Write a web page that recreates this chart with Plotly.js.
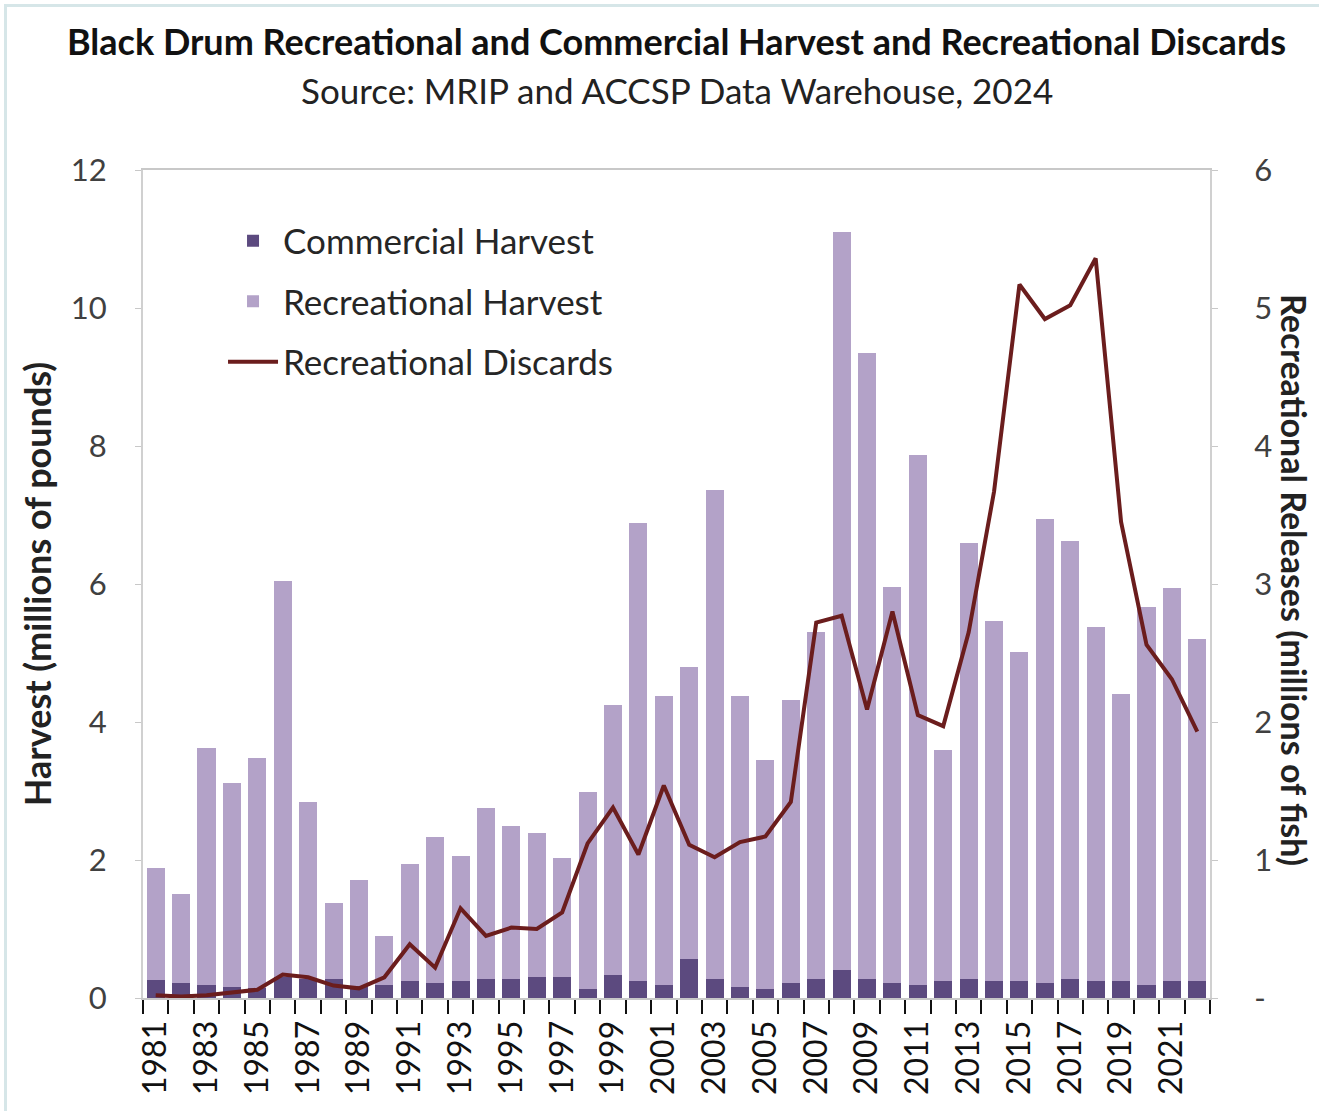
<!DOCTYPE html>
<html><head><meta charset="utf-8">
<script src="https://cdn.plot.ly/plotly-3.0.1.min.js"></script>
<style>
html,body{margin:0;padding:0;background:#fff;overflow:hidden;}
#frame{position:absolute;left:4px;top:4px;width:1400px;height:1200px;border:3px solid #d6e6e8;pointer-events:none;}
</style>
</head><body>
<div id="chart" style="width:1319px;height:1111px;"></div>
<div id="frame"></div>
<script>
const years = [1981,1982,1983,1984,1985,1986,1987,1988,1989,1990,1991,1992,1993,1994,1995,1996,1997,1998,1999,2000,2001,2002,2003,2004,2005,2006,2007,2008,2009,2010,2011,2012,2013,2014,2015,2016,2017,2018,2019,2020,2021,2022];
const commercialHarvest = [0.26,0.22,0.19,0.16,0.15,0.30,0.28,0.27,0.18,0.19,0.24,0.22,0.24,0.27,0.28,0.31,0.31,0.13,0.34,0.24,0.19,0.56,0.28,0.16,0.13,0.22,0.28,0.41,0.28,0.22,0.19,0.24,0.28,0.24,0.24,0.22,0.28,0.24,0.24,0.19,0.24,0.24];
const recreationalHarvest = [1.63,1.29,3.44,2.96,3.33,5.74,2.56,1.11,1.53,0.71,1.70,2.12,1.82,2.49,2.22,2.08,1.72,2.86,3.90,6.65,4.18,4.24,7.08,4.21,3.32,4.10,5.02,10.69,9.07,5.74,7.68,3.36,6.31,5.22,4.77,6.72,6.35,5.13,4.17,5.47,5.70,4.96];
const recreationalDiscards = [0.02,0.01,0.02,0.04,0.06,0.17,0.15,0.09,0.07,0.15,0.39,0.22,0.65,0.45,0.51,0.50,0.62,1.12,1.38,1.04,1.54,1.11,1.02,1.13,1.17,1.42,2.72,2.77,2.09,2.80,2.05,1.97,2.65,3.67,5.17,4.92,5.02,5.36,3.45,2.56,2.31,1.93];
const xLabelYears = [1981,1983,1985,1987,1989,1991,1993,1995,1997,1999,2001,2003,2005,2007,2009,2011,2013,2015,2017,2019,2021];
const leftTicks = [0,2,4,6,8,10,12];
const rightTicks = [0,1,2,3,4,5,6];
const rightTickText = ['-','1','2','3','4','5','6'];

const fontFam = 'Lato, "Open Sans", sans-serif';

const traces = [
  {type:'bar', name:'Commercial Harvest', x:years, y:commercialHarvest, marker:{color:'#5c4a7f'}, legendgroup:'a', hoverinfo:'x+y'},
  {type:'bar', name:'Recreational Harvest', x:years, y:recreationalHarvest, marker:{color:'#b3a2c8'}, legendgroup:'b', hoverinfo:'x+y'},
  {type:'scatter', mode:'lines', name:'Recreational Discards', x:years, y:recreationalDiscards, yaxis:'y2', line:{color:'#6b1d1d', width:4}, legendgroup:'c', hoverinfo:'x+y'}
];

const layout = {
  width:1319, height:1111,
  margin:{l:143, r:109, t:170, b:113},
  paper_bgcolor:'#ffffff', plot_bgcolor:'#ffffff',
  barmode:'stack', bargap:0.29,
  font:{family:fontFam, color:'#404040'},
  showlegend:true,
  legend:{x:0.075, y:0.95, xanchor:'left', yanchor:'top', bgcolor:'rgba(0,0,0,0)', font:{size:35, color:'#262626', family:fontFam}, traceorder:'grouped', tracegroupgap:12, itemwidth:50},
  title:{text:'<b>Black Drum Recreational and Commercial Harvest and Recreational Discards</b>', x:0.5, xref:'paper', xanchor:'center', y:1-42/1111, yref:'container', yanchor:'middle', font:{size:36, color:'#111', family:fontFam}},
  annotations:[
    {text:'Source: MRIP and ACCSP Data Warehouse, 2024', xref:'paper', yref:'paper', x:0.5, y:(998-90)/828, xanchor:'center', yanchor:'middle', showarrow:false, font:{size:35, color:'#222', family:fontFam}},
    {text:'<b>Recreational Releases (millions of fish)</b>', xref:'paper', yref:'paper', x:(1295-143)/1067, y:(998-580)/828, xanchor:'center', yanchor:'middle', textangle:90, showarrow:false, font:{size:34, color:'#222', family:fontFam}}
  ],
  xaxis:{
    range:[1980.5, 2022.5], tickmode:'array', tickvals:xLabelYears, ticktext:xLabelYears.map(String),
    tickangle:-90, ticks:'', tickfont:{size:32, color:'#111'}, ticklabelstandoff:8,
    showline:true, linecolor:'#c8c8c8', linewidth:2, mirror:true, showgrid:false, zeroline:false,
    minor:{tick0:0.5, dtick:1, ticks:'outside', ticklen:14, tickcolor:'#111', tickwidth:2, showgrid:false}
  },
  yaxis:{
    range:[0,12], tickmode:'array', tickvals:leftTicks, ticks:'outside', ticklen:6, tickcolor:'#c8c8c8',
    tickfont:{size:31, color:'#404040'}, ticklabelstandoff:22,
    showline:true, linecolor:'#d0d0d0', linewidth:2, showgrid:false, zeroline:false,
    title:{text:'<b>Harvest (millions of pounds)</b>', font:{size:36, color:'#222'}, standoff:8}
  },
  yaxis2:{
    overlaying:'y', side:'right', range:[0,6], tickmode:'array', tickvals:rightTicks, ticktext:rightTickText,
    ticks:'outside', ticklen:6, tickcolor:'#c8c8c8', tickfont:{size:31, color:'#404040'}, ticklabelstandoff:30,
    showline:true, linecolor:'#d0d0d0', linewidth:2, showgrid:false, zeroline:false
  }
};

Plotly.newPlot('chart', traces, layout, {displayModeBar:false, staticPlot:true});
</script>
</body></html>
